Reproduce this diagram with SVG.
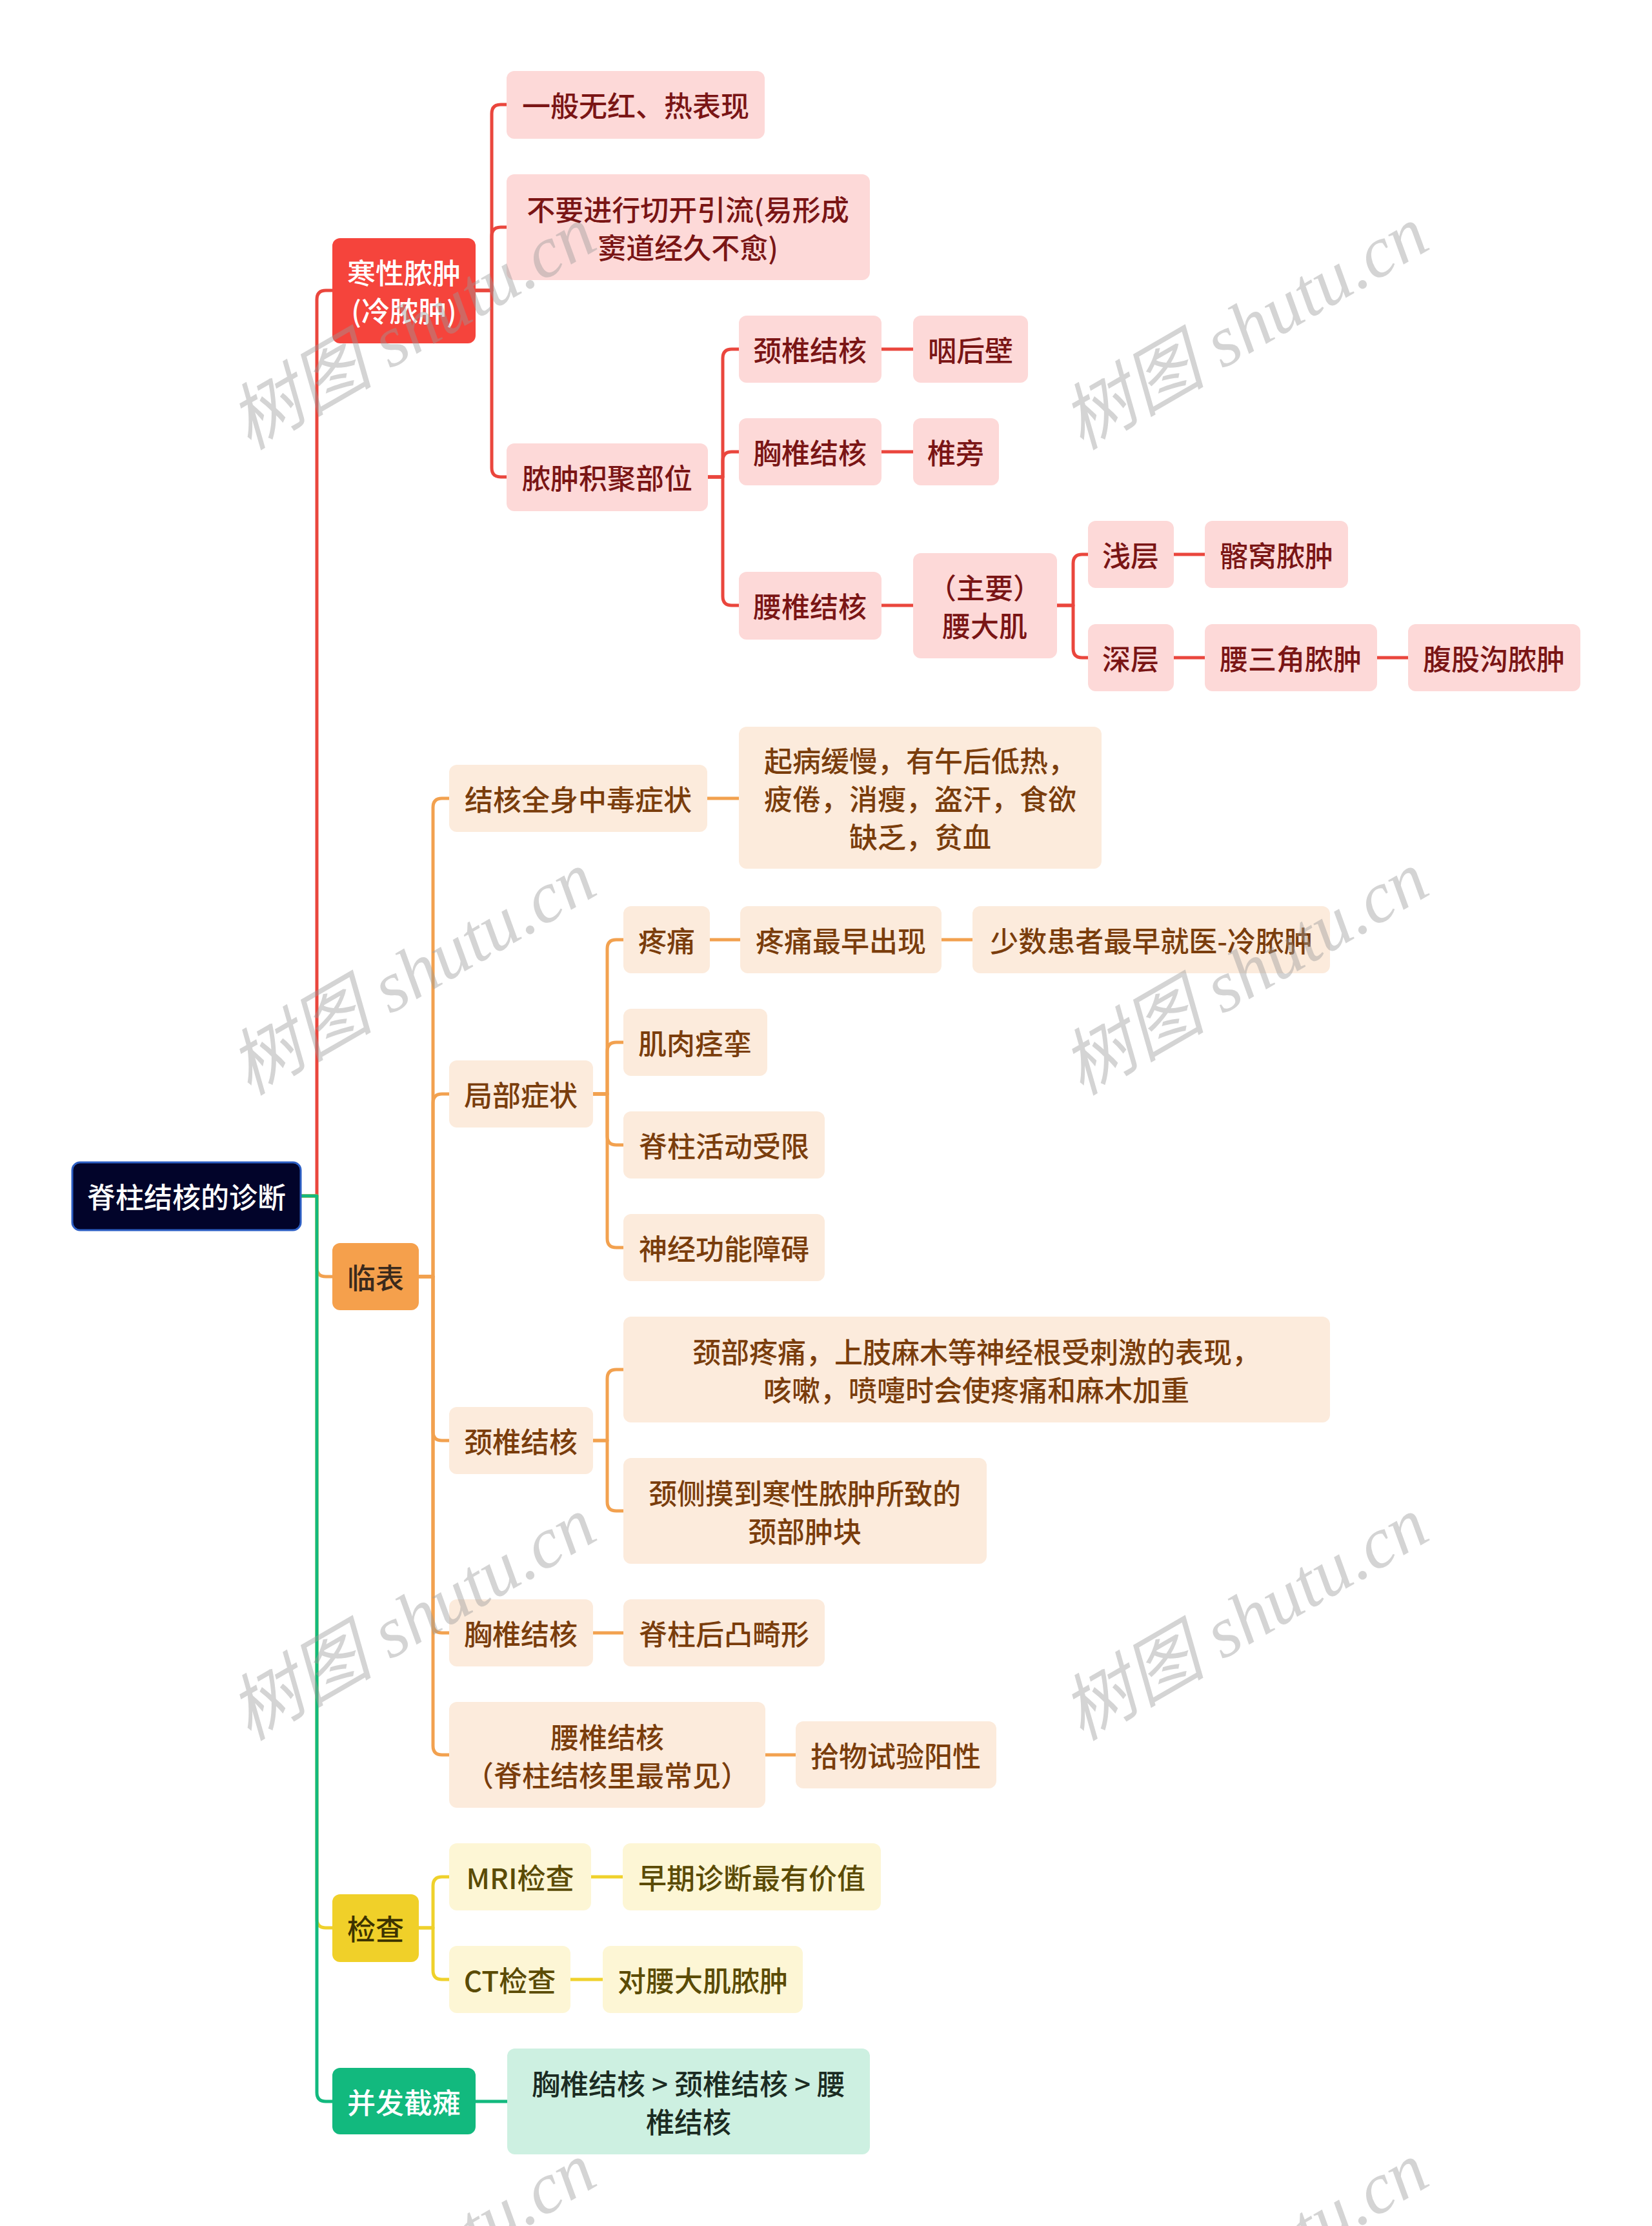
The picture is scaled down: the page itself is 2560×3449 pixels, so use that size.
<svg xmlns="http://www.w3.org/2000/svg" width="2560" height="3449" viewBox="0 0 2560 3449">
<defs>
<style>
text{font-family:"Noto Sans CJK SC","Liberation Sans",sans-serif;font-size:44px;font-weight:500;text-anchor:middle;dominant-baseline:central}
.c{fill:none;stroke-width:5;stroke-linejoin:round;stroke-linecap:butt}
.cr{stroke:#ea463d}.co{stroke:#f2a14f}.cy{stroke:#efd12b}.cg{stroke:#12b97e}
.root rect{fill:#02042a;stroke:#2d5fc4;stroke-width:3}
.root text{fill:#ffffff}
.r1 rect{fill:#f5443c}.r1 text{fill:#ffffff}
.r2 rect{fill:#fdd9d8}.r2 text{fill:#7a1515}
.o1 rect{fill:#f5a04c}.o1 text{fill:#3b2a1c}
.o2 rect{fill:#fcebdc}.o2 text{fill:#7a3d0c}
.y1 rect{fill:#f0d029}.y1 text{fill:#3d3300}
.y2 rect{fill:#fdf6d5}.y2 text{fill:#5b4b05}
.g1 rect{fill:#12b97e}.g1 text{fill:#ffffff}
.g2 rect{fill:#cdf0e1}.g2 text{fill:#1b2b22}
.wm text{font-family:"Liberation Serif","Noto Sans CJK SC",serif;font-size:112px;font-weight:normal;font-style:italic;fill:#9a9a9a;opacity:0.42}
</style>
</defs>
<rect x="0" y="0" width="2560" height="3449" fill="#ffffff"/>

<g id="connectors">
<path class="c cr" d="M466 1853 H491 V464 Q491 450 505 450 H515"/>
<path class="c co" d="M466 1853 H491 V1964 Q491 1978 505 1978 H515"/>
<path class="c cy" d="M466 1853 H491 V2973 Q491 2987 505 2987 H515"/>
<path class="c cg" d="M466 1853 H491 V3242 Q491 3256 505 3256 H515"/>
<path class="c cr" d="M737 450 H762 V176 Q762 162 776 162 H785"/>
<path class="c cr" d="M737 450 H762 V366 Q762 352 776 352 H785"/>
<path class="c cr" d="M737 450 H762 V725 Q762 739 776 739 H785"/>
<path class="c cr" d="M1097 739 H1120 V555 Q1120 541 1134 541 H1145"/>
<path class="c cr" d="M1097 739 H1120 V714 Q1120 700 1134 700 H1145"/>
<path class="c cr" d="M1097 739 H1120 V924 Q1120 938 1134 938 H1145"/>
<path class="c cr" d="M1366 541 H1415"/>
<path class="c cr" d="M1366 700 H1415"/>
<path class="c cr" d="M1366 938 H1415"/>
<path class="c cr" d="M1638 938 H1663 V873 Q1663 859 1677 859 H1686"/>
<path class="c cr" d="M1638 938 H1663 V1005 Q1663 1019 1677 1019 H1686"/>
<path class="c cr" d="M1819 859 H1867"/>
<path class="c cr" d="M1819 1019 H1867"/>
<path class="c cr" d="M2134 1019 H2182"/>
<path class="c co" d="M649 1978 H671 V1251 Q671 1237 685 1237 H696"/>
<path class="c co" d="M649 1978 H671 V1709 Q671 1695 685 1695 H696"/>
<path class="c co" d="M649 1978 H671 V2218 Q671 2232 685 2232 H696"/>
<path class="c co" d="M649 1978 H671 V2516 Q671 2530 685 2530 H696"/>
<path class="c co" d="M649 1978 H671 V2705 Q671 2719 685 2719 H696"/>
<path class="c co" d="M1096 1237 H1145"/>
<path class="c co" d="M919 1695 H941 V1470 Q941 1456 955 1456 H966"/>
<path class="c co" d="M919 1695 H941 V1629 Q941 1615 955 1615 H966"/>
<path class="c co" d="M919 1695 H941 V1760 Q941 1774 955 1774 H966"/>
<path class="c co" d="M919 1695 H941 V1919 Q941 1933 955 1933 H966"/>
<path class="c co" d="M1100 1456 H1147"/>
<path class="c co" d="M1459 1456 H1507"/>
<path class="c co" d="M919 2232 H941 V2136 Q941 2122 955 2122 H966"/>
<path class="c co" d="M919 2232 H941 V2327 Q941 2341 955 2341 H966"/>
<path class="c co" d="M919 2530 H966"/>
<path class="c co" d="M1186 2719 H1233"/>
<path class="c cy" d="M649 2987 H671 V2922 Q671 2908 685 2908 H696"/>
<path class="c cy" d="M649 2987 H671 V3053 Q671 3067 685 3067 H696"/>
<path class="c cy" d="M916 2908 H965"/>
<path class="c cy" d="M884 3067 H934"/>
<path class="c cg" d="M737 3256 H786"/>
</g>

<g id="n-root" class="root"><rect x="112" y="1801" width="354" height="105" rx="12"/><text x="289" y="1853">脊柱结核的诊断</text></g>

<g id="n-hanxing" class="r1"><rect x="515" y="369" width="222" height="163" rx="12"/><text x="626"><tspan x="626" y="421">寒性脓肿</tspan><tspan x="626" y="480">(冷脓肿)</tspan></text></g>
<g id="n-yiban" class="r2"><rect x="785" y="110" width="400" height="105" rx="12"/><text x="985" y="162">一般无红、热表现</text></g>
<g id="n-buyao" class="r2"><rect x="785" y="270" width="563" height="164" rx="12"/><text x="1066"><tspan x="1066" y="323">不要进行切开引流(易形成</tspan><tspan x="1066" y="382">窦道经久不愈)</tspan></text></g>
<g id="n-jiju" class="r2"><rect x="785" y="687" width="312" height="105" rx="12"/><text x="941" y="739">脓肿积聚部位</text></g>
<g id="n-jing1" class="r2"><rect x="1145" y="489" width="221" height="104" rx="12"/><text x="1255" y="541">颈椎结核</text></g>
<g id="n-yanhoubi" class="r2"><rect x="1415" y="489" width="178" height="104" rx="12"/><text x="1504" y="541">咽后壁</text></g>
<g id="n-xiong1" class="r2"><rect x="1145" y="648" width="221" height="104" rx="12"/><text x="1255" y="700">胸椎结核</text></g>
<g id="n-zhuipang" class="r2"><rect x="1415" y="648" width="133" height="104" rx="12"/><text x="1481" y="700">椎旁</text></g>
<g id="n-yao1" class="r2"><rect x="1145" y="886" width="221" height="105" rx="12"/><text x="1255" y="938">腰椎结核</text></g>
<g id="n-yaodaji" class="r2"><rect x="1415" y="857" width="223" height="163" rx="12"/><text x="1526"><tspan x="1526" y="909">（主要）</tspan><tspan x="1526" y="968">腰大肌</tspan></text></g>
<g id="n-qianceng" class="r2"><rect x="1686" y="807" width="133" height="104" rx="12"/><text x="1752" y="859">浅层</text></g>
<g id="n-qiawo" class="r2"><rect x="1867" y="807" width="222" height="104" rx="12"/><text x="1978" y="859">髂窝脓肿</text></g>
<g id="n-shenceng" class="r2"><rect x="1686" y="967" width="133" height="104" rx="12"/><text x="1752" y="1019">深层</text></g>
<g id="n-yaosanjiao" class="r2"><rect x="1867" y="967" width="267" height="104" rx="12"/><text x="2000" y="1019">腰三角脓肿</text></g>
<g id="n-fugugou" class="r2"><rect x="2182" y="967" width="267" height="104" rx="12"/><text x="2315" y="1019">腹股沟脓肿</text></g>

<g id="n-linbiao" class="o1"><rect x="515" y="1926" width="134" height="104" rx="12"/><text x="582" y="1978">临表</text></g>
<g id="n-quanshen" class="o2"><rect x="696" y="1185" width="400" height="104" rx="12"/><text x="896" y="1237">结核全身中毒症状</text></g>
<g id="n-qibing" class="o2"><rect x="1145" y="1126" width="562" height="220" rx="12"/><text x="1426"><tspan x="1426" y="1177">起病缓慢，有午后低热，</tspan><tspan x="1426" y="1236">疲倦，消瘦，盗汗，食欲</tspan><tspan x="1426" y="1295">缺乏，贫血</tspan></text></g>
<g id="n-jubu" class="o2"><rect x="696" y="1643" width="223" height="104" rx="12"/><text x="807" y="1695">局部症状</text></g>
<g id="n-tengtong" class="o2"><rect x="966" y="1404" width="134" height="104" rx="12"/><text x="1033" y="1456">疼痛</text></g>
<g id="n-zuizao" class="o2"><rect x="1147" y="1404" width="312" height="104" rx="12"/><text x="1303" y="1456">疼痛最早出现</text></g>
<g id="n-shaoshu" class="o2"><rect x="1507" y="1404" width="554" height="104" rx="12"/><text x="1784" y="1456">少数患者最早就医-冷脓肿</text></g>
<g id="n-jirou" class="o2"><rect x="966" y="1563" width="223" height="104" rx="12"/><text x="1077" y="1615">肌肉痉挛</text></g>
<g id="n-huodong" class="o2"><rect x="966" y="1722" width="312" height="104" rx="12"/><text x="1122" y="1774">脊柱活动受限</text></g>
<g id="n-shenjing" class="o2"><rect x="966" y="1881" width="312" height="104" rx="12"/><text x="1122" y="1933">神经功能障碍</text></g>
<g id="n-jing2" class="o2"><rect x="696" y="2180" width="223" height="104" rx="12"/><text x="807" y="2232">颈椎结核</text></g>
<g id="n-jingbu" class="o2"><rect x="966" y="2040" width="1095" height="164" rx="12"/><text x="1513"><tspan x="1513" y="2093">颈部疼痛，上肢麻木等神经根受刺激的表现，</tspan><tspan x="1513" y="2152">咳嗽，喷嚏时会使疼痛和麻木加重</tspan></text></g>
<g id="n-jingce" class="o2"><rect x="966" y="2259" width="563" height="164" rx="12"/><text x="1247"><tspan x="1247" y="2312">颈侧摸到寒性脓肿所致的</tspan><tspan x="1247" y="2371">颈部肿块</tspan></text></g>
<g id="n-xiong2" class="o2"><rect x="696" y="2478" width="223" height="104" rx="12"/><text x="807" y="2530">胸椎结核</text></g>
<g id="n-houtu" class="o2"><rect x="966" y="2478" width="312" height="104" rx="12"/><text x="1122" y="2530">脊柱后凸畸形</text></g>
<g id="n-yao2" class="o2"><rect x="696" y="2637" width="490" height="164" rx="12"/><text x="941"><tspan x="941" y="2690">腰椎结核</tspan><tspan x="941" y="2749">（脊柱结核里最常见）</tspan></text></g>
<g id="n-shiwu" class="o2"><rect x="1233" y="2667" width="311" height="104" rx="12"/><text x="1388" y="2719">拾物试验阳性</text></g>

<g id="n-jiancha" class="y1"><rect x="515" y="2935" width="134" height="105" rx="12"/><text x="582" y="2987">检查</text></g>
<g id="n-mri" class="y2"><rect x="696" y="2856" width="220" height="104" rx="12"/><text x="806" y="2908">MRI检查</text></g>
<g id="n-zaoqi" class="y2"><rect x="965" y="2856" width="400" height="104" rx="12"/><text x="1165" y="2908">早期诊断最有价值</text></g>
<g id="n-ct" class="y2"><rect x="696" y="3015" width="188" height="104" rx="12"/><text x="790" y="3067">CT检查</text></g>
<g id="n-duiyao" class="y2"><rect x="934" y="3015" width="310" height="104" rx="12"/><text x="1089" y="3067">对腰大肌脓肿</text></g>

<g id="n-bingfa" class="g1"><rect x="515" y="3204" width="222" height="103" rx="12"/><text x="626" y="3256">并发截瘫</text></g>
<g id="n-shunxu" class="g2"><rect x="786" y="3174" width="562" height="164" rx="12"/><text x="1067"><tspan x="1067" y="3227">胸椎结核 &gt; 颈椎结核 &gt; 腰</tspan><tspan x="1067" y="3286">椎结核</tspan></text></g>

<g id="watermarks" class="wm">
<text transform="translate(639 508) rotate(-30)" x="0" y="0">树图 shutu.cn</text>
<text transform="translate(1929 508) rotate(-30)" x="0" y="0">树图 shutu.cn</text>
<text transform="translate(639 1508) rotate(-30)" x="0" y="0">树图 shutu.cn</text>
<text transform="translate(1929 1508) rotate(-30)" x="0" y="0">树图 shutu.cn</text>
<text transform="translate(639 2508) rotate(-30)" x="0" y="0">树图 shutu.cn</text>
<text transform="translate(1929 2508) rotate(-30)" x="0" y="0">树图 shutu.cn</text>
<text transform="translate(639 3508) rotate(-30)" x="0" y="0">树图 shutu.cn</text>
<text transform="translate(1929 3508) rotate(-30)" x="0" y="0">树图 shutu.cn</text>
</g>
</svg>
